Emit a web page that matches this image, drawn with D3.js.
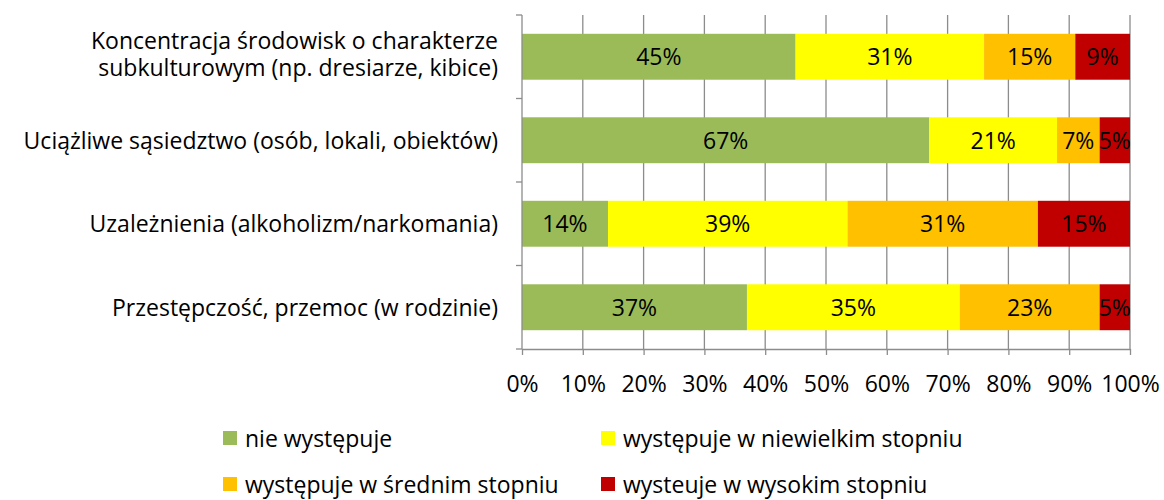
<!DOCTYPE html>
<html>
<head>
<meta charset="utf-8">
<script src="https://cdn.jsdelivr.net/npm/d3@7"></script>
<style>
  html, body { margin: 0; padding: 0; background: #fff; }
  svg { display: block; font-family: "Open Sans", sans-serif; }
</style>
</head>
<body>
<svg id="chart" width="1164" height="500"></svg>
<script>
// Problem areas and answer levels (shares in %)
const categories = [
  ["Koncentracja środowisk o charakterze", "subkulturowym (np. dresiarze, kibice)"],
  ["Uciążliwe sąsiedztwo (osób, lokali, obiektów)"],
  ["Uzależnienia (alkoholizm/narkomania)"],
  ["Przestępczość, przemoc (w rodzinie)"]
];
const seriesNames = [
  "nie występuje",
  "występuje w niewielkim stopniu",
  "występuje w średnim stopniu",
  "wysteuje w wysokim stopniu"
];
const nieWystepuje = [45, 67, 14, 37];
const niewielkim   = [31, 21, 39, 35];
const srednim      = [15, 7, 31, 23];
const wysokim      = [9, 5, 15, 5];
const xTicks = [0, 0.1, 0.2, 0.3, 0.4, 0.5, 0.6, 0.7, 0.8, 0.9, 1];
const colors = ["#9BBB59", "#FFFF00", "#FFC000", "#C00000"];

const seriesValues = [nieWystepuje, niewielkim, srednim, wysokim];
const rows = categories.map((c, i) => {
  const r = { key: i };
  seriesNames.forEach((s, j) => { r[s] = seriesValues[j][i]; });
  return r;
});

const svg = d3.select("#chart");
const plot = { left: 522, right: 1130, top: 15, bottom: 349 };
const fontSize = 23;
const axisColor = "#8c8c8c";

const x = d3.scaleLinear().domain([0, 1]).range([plot.left, plot.right]);
const y = d3.scaleBand().domain(d3.range(categories.length))
  .range([plot.top, plot.bottom]).paddingInner(0.45).paddingOuter(0.225);

const stack = d3.stack().keys(seriesNames).offset(d3.stackOffsetExpand);
const stacked = stack(rows);

// vertical gridlines
svg.append("g").selectAll("line").data(xTicks.slice(1)).join("line")
  .attr("x1", d => x(d)).attr("x2", d => x(d))
  .attr("y1", plot.top).attr("y2", plot.bottom)
  .attr("stroke", axisColor).attr("stroke-width", 1.3);

// bars
const layers = svg.append("g").selectAll("g").data(stacked).join("g")
  .attr("fill", (d, i) => colors[i]);
layers.selectAll("rect").data(d => d).join("rect")
  .attr("x", d => x(d[0]))
  .attr("width", d => x(d[1]) - x(d[0]))
  .attr("y", (d, i) => y(i))
  .attr("height", y.bandwidth());

// value labels
layers.each(function(layer, j) {
  d3.select(this).selectAll("text").data(layer).join("text")
    .attr("x", d => (x(d[0]) + x(d[1])) / 2)
    .attr("y", (d, i) => y(i) + y.bandwidth() / 2)
    .attr("dy", "0.36em")
    .attr("text-anchor", "middle")
    .attr("font-size", fontSize)
    .attr("fill", "#000")
    .text((d, i) => seriesValues[j][i] + "%");
});

// y axis (category boundaries)
const yAxis = svg.append("g");
yAxis.append("line")
  .attr("x1", plot.left).attr("x2", plot.left)
  .attr("y1", plot.top).attr("y2", plot.bottom)
  .attr("stroke", axisColor).attr("stroke-width", 1.3);
const step = (plot.bottom - plot.top) / categories.length;
yAxis.selectAll("line.tick").data(d3.range(categories.length + 1)).join("line")
  .attr("class", "tick")
  .attr("x1", plot.left - 6).attr("x2", plot.left)
  .attr("y1", d => plot.top + d * step).attr("y2", d => plot.top + d * step)
  .attr("stroke", axisColor).attr("stroke-width", 1.3);

// category labels
categories.forEach((lines, i) => {
  const cy = y(i) + y.bandwidth() / 2;
  const lh = 27;
  const shift = lines.length > 1 ? -2.5 : 0;
  const t = svg.append("text")
    .attr("text-anchor", "end")
    .attr("font-size", fontSize)
    .attr("fill", "#000");
  lines.forEach((ln, k) => {
    t.append("tspan")
      .attr("x", plot.left - 24)
      .attr("y", cy + (k - (lines.length - 1) / 2) * lh + shift)
      .attr("dy", "0.36em")
      .text(ln);
  });
});

// x axis
const xAxis = d3.axisBottom(x).tickValues(xTicks)
  .tickFormat(d3.format(".0%")).tickSize(6).tickSizeOuter(0);
const gx = svg.append("g").attr("transform", `translate(0,${plot.bottom})`).call(xAxis);
gx.select(".domain").attr("stroke", axisColor).attr("stroke-width", 1.3);
gx.selectAll(".tick line").attr("stroke", axisColor).attr("stroke-width", 1.3);
gx.selectAll(".tick text")
  .attr("font-size", fontSize).attr("font-family", "'Open Sans', sans-serif")
  .attr("fill", "#000").attr("y", 35).attr("dy", "0.36em");

// legend
const legendPos = [[223, 439], [601, 439], [223, 485], [601, 485]];
const legend = svg.append("g").selectAll("g").data(seriesNames).join("g")
  .attr("transform", (d, i) => `translate(${legendPos[i][0]},${legendPos[i][1]})`);
legend.append("rect")
  .attr("x", 0).attr("y", -8).attr("width", 14).attr("height", 14)
  .attr("fill", (d, i) => colors[i]);
legend.append("text")
  .attr("x", 22).attr("y", 0).attr("dy", "0.36em")
  .attr("font-size", fontSize).attr("fill", "#000")
  .text(d => d);
</script>
</body>
</html>
